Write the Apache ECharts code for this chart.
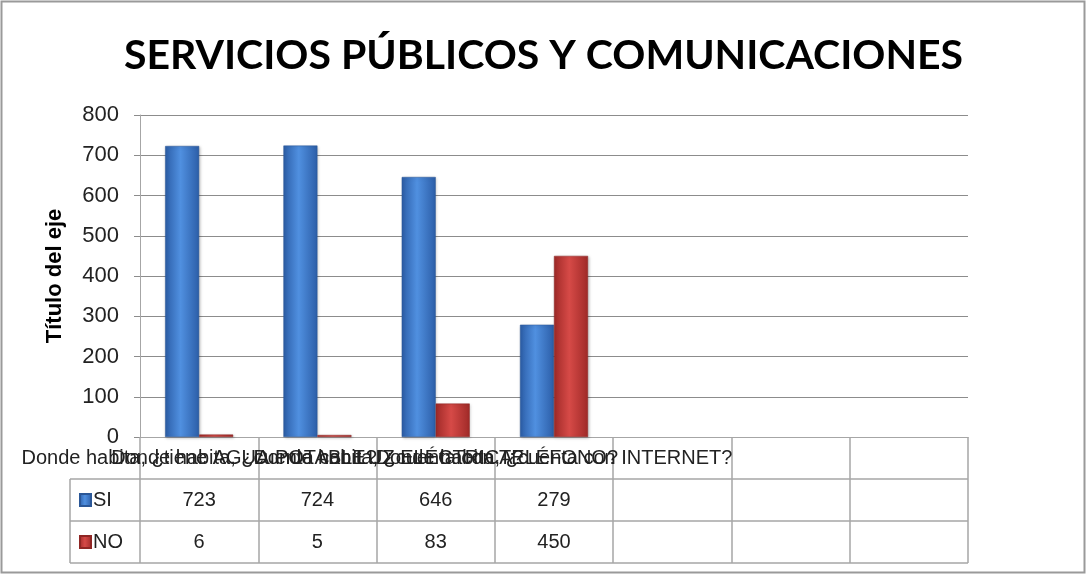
<!DOCTYPE html>
<html>
<head>
    <meta charset="utf-8">
    <title>Servicios públicos y comunicaciones</title>
    <script src="https://cdn.jsdelivr.net/npm/echarts@6/dist/echarts.min.js"></script>
    <style>
        html, body { margin: 0; padding: 0; background: #fff; }
        #main { width: 1087px; height: 575px; }
    </style>
</head>
<body>
<div id="main"></div>
<script>
    // datos del gráfico (columnas vacías al final, como en la hoja)
    var categorias = ['Donde habita, ¿tiene AGUA POTABLE?', 'Donde habita, ¿cuenta con LUZ ELÉCTRICA?',
        'Donde habita, ¿cuenta con TELÉFONO?', 'Donde habita, ¿cuenta con INTERNET?', '', '', ''];
    var valoresSi = [723, 724, 646, 279];
    var valoresNo = [6, 5, 83, 450];
    var ticksY = [0, 100, 200, 300, 400, 500, 600, 700, 800];

    var L = 140, R = 968, T = 115, B = 437;   // área de trazado
    var filaAlto = 42;
    var fuente = 'Liberation Sans';

    function fila(vals) {
        return categorias.map(function (c, i) { return i < vals.length ? String(vals[i]) : ''; });
    }

    function degradado(oscuro, claro) {
        return new echarts.graphic.LinearGradient(0, 0, 1, 0, [
            {offset: 0, color: oscuro},
            {offset: 0.45, color: claro},
            {offset: 1, color: oscuro}
        ]);
    }

    var myChart = echarts.init(document.getElementById('main'));
    var lineaGris = '#a6a6a6';

    var option = {
        animation: false,
        title: {
            text: 'SERVICIOS PÚBLICOS Y COMUNICACIONES',
            left: 'center', top: 30,
            textStyle: {fontFamily: 'Lato', fontWeight: 'bold', fontSize: 41, color: '#000'}
        },
        legend: {
            orient: 'vertical', left: 74, top: B + filaAlto + 6,
            icon: 'rect', itemWidth: 11, itemHeight: 12, itemGap: 22,
            textStyle: {fontFamily: fuente, fontSize: 20, color: '#222', padding: [0, 0, 0, -3]},
            data: ['SI', 'NO']
        },
        grid: {left: L, right: 1087 - R, top: T, bottom: 575 - B, outerBoundsMode: 'none', containLabel: false},
        xAxis: [{
            type: 'category', data: categorias,
            axisLine: {lineStyle: {color: lineaGris}},
            axisTick: {show: true, length: filaAlto * 3, lineStyle: {color: lineaGris, width: 1.5}},
            axisLabel: {interval: 0, margin: 11, fontFamily: fuente, fontSize: 20, color: '#222', overflow: 'none'}
        }, {
            type: 'category', data: fila(valoresSi), position: 'bottom', offset: filaAlto,
            axisLine: {show: false}, axisTick: {show: false},
            axisLabel: {interval: 0, margin: 11, fontFamily: fuente, fontSize: 20, color: '#222'}
        }, {
            type: 'category', data: fila(valoresNo), position: 'bottom', offset: filaAlto * 2,
            axisLine: {show: false}, axisTick: {show: false},
            axisLabel: {interval: 0, margin: 11, fontFamily: fuente, fontSize: 20, color: '#222'}
        }],
        yAxis: {
            type: 'value', min: ticksY[0], max: ticksY[ticksY.length - 1], interval: 100,
            name: 'Título del eje', nameLocation: 'middle', nameGap: 74, nameRotate: 90,
            nameTextStyle: {fontFamily: fuente, fontWeight: 'bold', fontSize: 22, color: '#000'},
            axisLine: {show: true, lineStyle: {color: lineaGris}},
            axisTick: {show: true, length: 6, lineStyle: {color: '#8c8c8c'}},
            axisLabel: {margin: 21, fontFamily: fuente, fontSize: 22, color: '#222'},
            splitLine: {lineStyle: {color: '#8c8c8c'}}
        },
        series: [{
            name: 'SI', type: 'bar', data: valoresSi, barWidth: 34, barGap: '0%',
            itemStyle: {color: degradado('#2c5ea8', '#5090e0'), borderColor: '#2b5797', borderWidth: 0.5,
                shadowColor: 'rgba(0,0,0,0.25)', shadowBlur: 3, shadowOffsetX: 1, shadowOffsetY: 1}
        }, {
            name: 'NO', type: 'bar', data: valoresNo, barWidth: 34,
            itemStyle: {color: degradado('#a02a28', '#d64a47'), borderColor: '#8f2624', borderWidth: 0.5,
                shadowColor: 'rgba(0,0,0,0.25)', shadowBlur: 3, shadowOffsetX: 1, shadowOffsetY: 1}
        }],
        graphic: [
            {type: 'rect', shape: {x: 1.5, y: 1.5, width: 1083, height: 571},
                style: {fill: null, stroke: '#9a9a9a', lineWidth: 2}},
            {type: 'line', shape: {x1: 70, y1: B + filaAlto, x2: R, y2: B + filaAlto}, style: {stroke: lineaGris, lineWidth: 1.5}},
            {type: 'line', shape: {x1: 70, y1: B + filaAlto * 2, x2: R, y2: B + filaAlto * 2}, style: {stroke: lineaGris, lineWidth: 1.5}},
            {type: 'line', shape: {x1: 70, y1: B + filaAlto * 3, x2: R, y2: B + filaAlto * 3}, style: {stroke: lineaGris, lineWidth: 1.5}},
            {type: 'line', shape: {x1: 70, y1: B + filaAlto, x2: 70, y2: B + filaAlto * 3}, style: {stroke: lineaGris, lineWidth: 1.5}}
        ]
    };
    myChart.setOption(option);
</script>
</body>
</html>
